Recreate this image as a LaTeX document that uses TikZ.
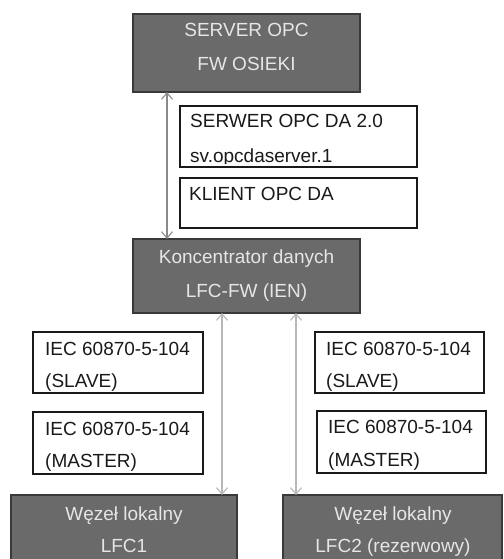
\documentclass[tikz,border=0pt]{standalone}
\usepackage{fontspec}
\setmainfont{Liberation Sans}
\usetikzlibrary{arrows.meta}
\definecolor{boxfill}{HTML}{6A6A6A}
\definecolor{boxedge}{HTML}{3A3A3A}
\definecolor{lighttext}{HTML}{E6E6E6}
\definecolor{inktext}{HTML}{1A1A1A}
\definecolor{linkdark}{HTML}{8A8A8A}
\definecolor{linklight}{HTML}{B8B8B8}
\tikzset{vtip/.tip={Straight Barb[length=6.5pt,width=11pt,line width=1.1pt]}}
\begin{document}
\begin{tikzpicture}[x=1pt,y=-1pt,
  darkbox/.style={draw=boxedge, fill=boxfill, line width=1.4pt, anchor=north west,
    inner sep=0pt, outer sep=0pt},
  whitebox/.style={draw=inktext, fill=white, line width=1.3pt, anchor=north west,
    inner sep=0pt, outer sep=0pt},
  lighttxt/.style={text=lighttext, font=\fontsize{19}{22}\selectfont, anchor=base, inner sep=0pt},
  inktxt/.style={text=inktext, font=\fontsize{19}{22}\selectfont, anchor=base west, inner sep=0pt},
  link/.style={line width=1.2pt, vtip-vtip}
]
\clip (0,0) rectangle (503,559);

% boxes
\node[darkbox, minimum width=227pt, minimum height=78pt] (srv) at (133,14) {};
\node[whitebox, minimum width=237pt, minimum height=61pt] (dasrv) at (180,106) {};
\node[whitebox, minimum width=237pt, minimum height=50pt] (dacli) at (180,178) {};
\node[darkbox, minimum width=227pt, minimum height=74pt] (konc) at (133,239) {};
\node[whitebox, minimum width=170pt, minimum height=61pt] (lslave) at (33,332) {};
\node[whitebox, minimum width=170pt, minimum height=62pt] (lmaster) at (33,412) {};
\node[whitebox, minimum width=169pt, minimum height=61pt] (rslave) at (315,332) {};
\node[whitebox, minimum width=169pt, minimum height=62pt] (rmaster) at (317,411) {};
\node[darkbox, minimum width=226pt, minimum height=90pt] (lfca) at (11,495) {};
\node[darkbox, minimum width=219pt, minimum height=90pt] (lfcb) at (283,495) {};

% labels
\node[lighttxt] (srvt1) at (246.5,37) {SERVER OPC};
\node[lighttxt] (srvt2) at (246.5,71) {FW OSIEKI};
\node[inktxt] (dasrvt1) at (190,128) {SERWER OPC DA 2.0};
\begin{scope}
  \clip (dasrv.north west) rectangle ([yshift=3.5pt]dasrv.south east);
  \node[inktxt] (dasrvt2) at (190,162.5) {sv.opcdaserver.1};
\end{scope}
\node[inktxt] (dacli1) at (189,200) {KLIENT OPC DA};
\node[lighttxt] (konct1) at (246.5,263) {Koncentrator danych};
\node[lighttxt] (konct2) at (246.5,297) {LFC-FW (IEN)};
\node[inktxt] (lsl1) at (45,355) {IEC 60870-5-104};
\node[inktxt] (lsl2) at (45,387) {(SLAVE)};
\node[inktxt] (lms1) at (45,435) {IEC 60870-5-104};
\begin{scope}
  \clip (lmaster.north west) rectangle ([yshift=3.5pt]lmaster.south east);
  \node[inktxt] (lms2) at (45,467.5) {(MASTER)};
\end{scope}
\node[inktxt] (rsl1) at (326,355) {IEC 60870-5-104};
\node[inktxt] (rsl2) at (326,387) {(SLAVE)};
\node[inktxt] (rms1) at (328,433) {IEC 60870-5-104};
\begin{scope}
  \clip (rmaster.north west) rectangle ([yshift=3.5pt]rmaster.south east);
  \node[inktxt] (rms2) at (328,466.5) {(MASTER)};
\end{scope}
\node[lighttxt] (lfcat1) at (124,520) {Węzeł lokalny};
\node[lighttxt] (lfcat2) at (124,552) {LFC1};
\node[lighttxt] (lfcbt1) at (393,520) {Węzeł lokalny};
\node[lighttxt] (lfcbt2) at (393,552) {LFC2 (rezerwowy)};

% connectors
\coordinate (xa) at (167,0);
\coordinate (xb) at (222,0);
\coordinate (xc) at (296,0);
\draw[link, draw=linkdark] (xa |- srv.south) -- (xa |- konc.north);
\draw[link, draw=linklight] (xb |- konc.south) -- (xb |- lfca.north);
\draw[link, draw=linklight] (xc |- konc.south) -- (xc |- lfcb.north);
\end{tikzpicture}
\end{document}
